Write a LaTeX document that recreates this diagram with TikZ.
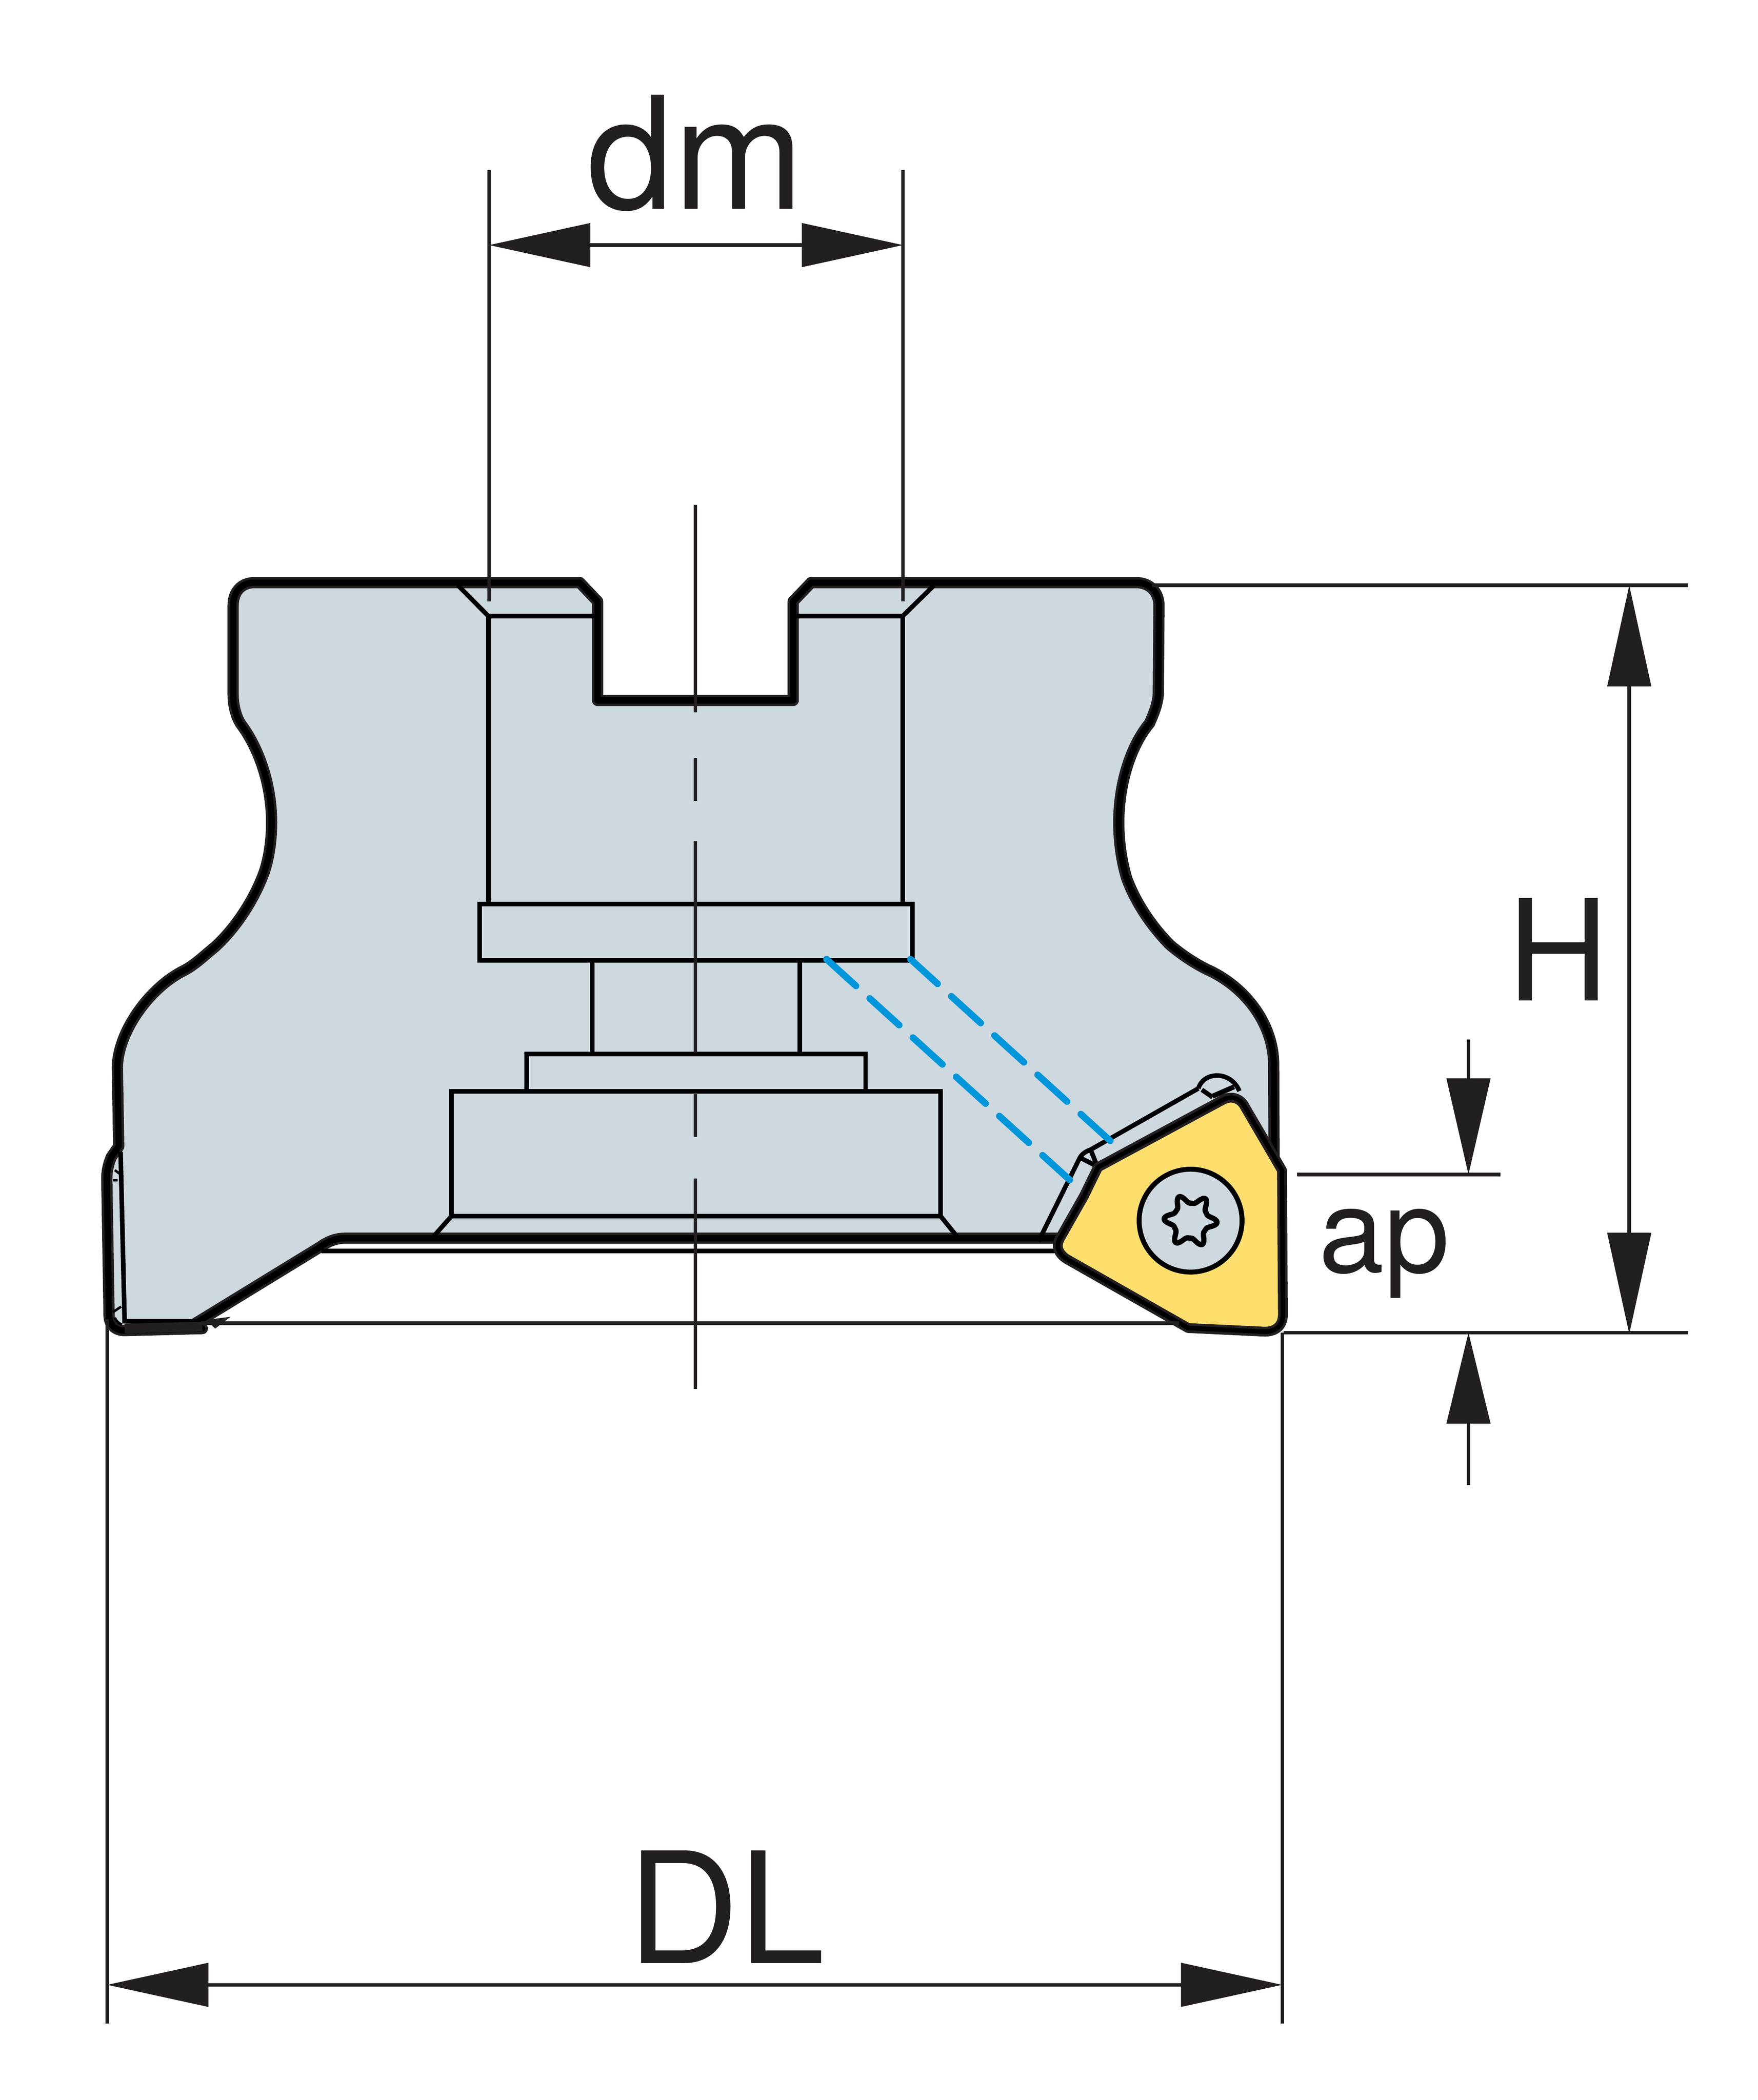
\documentclass[tikz,border=0pt]{standalone}
\usepackage{fontspec}
\setmainfont{TeX Gyre Heros}
\usetikzlibrary{arrows.meta}
\definecolor{bodyFill}{RGB}{205,216,223}
\definecolor{insertFill}{RGB}{254,223,110}
\definecolor{dimInk}{RGB}{35,31,32}
\definecolor{hiddenBlue}{RGB}{0,150,219}

\def\bodyOutline{(190,435) -- (432.7,435) -- (446,449) -- (446,523) -- (592,523) -- (592,449) -- (605.4,435) -- (848,435)
  .. controls (858,435) and (865,442) .. (865,452) -- (864.5,518)
  .. controls (864,527) and (860,535) .. (858,540)
  .. controls (843,558) and (835,587) .. (835,614)
  .. controls (835,628) and (837,643) .. (841,656)
  .. controls (848,675) and (860,692) .. (873,705.3)
  .. controls (882,713) and (892,719.5) .. (901,723.9)
  .. controls (930,737) and (950.6,765) .. (950.6,795)
  -- (951,880) -- (800,924.5) -- (258,924.5)
  .. controls (252,924.5) and (246,926) .. (239,931)
  -- (146,988) -- (151,992) -- (93,993.5)
  .. controls (86,993.5) and (81.4,989) .. (81.4,982)
  -- (79.7,880) .. controls (79.7,874) and (81,869) .. (83,864)
  -- (88.6,856) -- (87.6,797)
  .. controls (88,770) and (112,737) .. (137.8,724.4)
  .. controls (146,720) and (153,713) .. (160,707.4)
  .. controls (175,694) and (190,672) .. (197.7,649.7)
  .. controls (201,639) and (202.7,627) .. (202.7,614)
  .. controls (202.7,587) and (194,560) .. (180.2,541.2)
  .. controls (177,537) and (174,528) .. (174,519)
  -- (174,452) .. controls (174,442) and (180,435) .. (190,435) -- cycle}

\def\insertOutline{(819.5,871.5) -- (913,821)
  .. controls (919,818) and (925,820) .. (928.2,824.8)
  -- (956.8,873.8) -- (957.5,981.5)
  .. controls (957.5,990) and (952,994.3) .. (944,994.3)
  -- (886.8,991.6) -- (796,940)
  .. controls (788.5,935) and (788,929) .. (792,923) -- (809,893) -- cycle}

\begin{document}
\begin{tikzpicture}[x=3.81122pt,y=-3.81122pt,
    bodyLine/.style={draw=dimInk,line width=32pt,line join=round},
    partLine/.style={draw=black,line width=13pt},
    dimLine/.style={draw=dimInk,line width=10pt},
    dimArrow/.style={dimLine,{Triangle[length=288pt,width=123pt,fill=dimInk]}-{Triangle[length=288pt,width=123pt,fill=dimInk]}},
    dimTip/.style={dimLine,-{Triangle[length=#1,width=123pt,fill=dimInk]}},
    dimText/.style={inner sep=0pt,outer sep=0pt,anchor=base,text=dimInk}]

  \useasboundingbox (0,0) rectangle (1311.9,1568);

  % draw the cutter body
  \draw[bodyLine,fill=bodyFill] \bodyOutline;
  \draw[draw=black,line width=18pt,line join=round] \bodyOutline;

  % draw the bore and the chamfers
  \draw[partLine] (341.7,437) -- (364.5,460) -- (446,460);
  \draw[partLine] (697.2,437) -- (673.7,460) -- (592,460);
  \draw[partLine] (364.5,460) -- (364.5,675);
  \draw[partLine] (673.7,460) -- (673.7,675);

  % draw the steps of the bolt
  \draw[partLine] (358,675) rectangle (681,717);
  \foreach \x in {442,597} \draw[partLine] (\x,717) -- (\x,787);
  \draw[partLine] (393,787) rectangle (646,815);
  \draw[partLine] (337,815) rectangle (702,908);
  \draw[partLine] (337,908) -- (322,925);
  \draw[partLine] (702,908) -- (716.5,926);

  % draw the lower face and the left edge
  \draw[partLine] (240,934) -- (790,934);
  \draw[partLine] (90,860) -- (93,986.5) -- (150,986.5);
  \draw[partLine,line width=7pt] (84.3,979.7) -- (90.4,975.6);
  \draw[partLine,line width=7pt] (85.7,873.7) -- (90.4,877.2);
  \draw[partLine,line width=7pt] (84.3,881.3) -- (87.7,881.3);
  \draw[partLine,line width=7pt] (85.7,983.8) .. controls (86.5,986) and (88.5,988) .. (91,989);
  \draw[bodyLine,line width=28pt] (93,992) -- (151,990.5);
  \fill[dimInk] (154,985.5) -- (172,983.2) -- (160.6,992) -- cycle;

  % draw the seat of the insert
  \draw[partLine] (775,927) -- (806,864.3) .. controls (808,861) and (811,859.5) .. (814,858.4) -- (894.4,812.7);
  \draw[partLine] (894.4,812.7) .. controls (898.5,799.5) and (919,799.5) .. (925,814.7);
  \draw[partLine] (897,813.7) -- (905,819.2);
  \draw[partLine,line width=14pt] (905,818.5) -- (921,811.5);
  \draw[partLine] (806,864.3) -- (819,871) -- (814,858.4);

  % draw the insert
  \draw[bodyLine,line width=28pt,fill=insertFill] \insertOutline;
  \draw[draw=black,line width=13pt,line join=round] \insertOutline;
  \draw[partLine,line width=14pt,fill=bodyFill] (888.6,911.4) circle [radius=38.4];
  \draw[partLine,line width=15pt,line join=round] plot[domain=0:360,samples=145,smooth]
    ({888.6+(13+6.8*cos(3*(\x-4))^4)*cos(\x)},{911.4+(13+6.8*cos(3*(\x-4))^4)*sin(\x)}) -- cycle;

  % draw the hidden lines
  \draw[hiddenBlue,line width=19pt,line cap=round,dash pattern=on 113pt off 53pt] (828.6,851.8) -- (679.6,716.2);
  \draw[hiddenBlue,line width=19pt,line cap=round,dash pattern=on 113pt off 53pt] (616.9,716.2) -- (798.4,881);

  % draw the center line
  \foreach \a/\b in {377/532,566/598,628/786,817/849,880/1037}
  \draw[dimLine] (519,\a) -- (519,\b);

  % draw the extension lines
  \foreach \x in {365,674} \draw[dimLine] (\x,127) -- (\x,449);
  \draw[dimLine] (860,437) -- (1260,437);
  \draw[dimLine] (958,995) -- (1260,995);
  \draw[dimLine] (968,877) -- (1120,877);
  \draw[dimLine] (150,988) -- (880,988);
  \draw[dimLine] (80,985) -- (80,1511);
  \draw[dimLine] (957,995) -- (957,1511);

  % draw the dimensions
  \coordinate (dmLeft) at (365,183);
  \coordinate (dmRight) at (674,183);
  \coordinate (heightTop) at (1216,437);
  \coordinate (heightBottom) at (1216,996);
  \coordinate (apTopEnd) at (1096,776);
  \coordinate (apTop) at (1096,877);
  \coordinate (apBottomEnd) at (1096,1109);
  \coordinate (apBottom) at (1096,995);
  \coordinate (dlLeft) at (80,1482);
  \coordinate (dlRight) at (957,1482);
  \draw[dimArrow] (dmLeft) -- (dmRight);
  \draw[dimArrow] (heightTop) -- (heightBottom);
  \draw[dimArrow] (dlLeft) -- (dlRight);
  \draw[dimTip=274pt] (apTopEnd) -- (apTop);
  \draw[dimTip=259pt] (apBottomEnd) -- (apBottom);

  % label the dimensions
  \node[dimText,font=\fontsize{445}{445}\selectfont] (labelDm) at (519,156) {dm};
  \node[dimText,font=\fontsize{400}{400}\selectfont] (labelHeight) at (1163,747) {H};
  \node[dimText,font=\fontsize{335}{335}\selectfont] (labelAp) at (1033,950) {ap};
  \node[dimText,font=\fontsize{440}{440}\selectfont] (labelDl) at (542,1466) {DL};

\end{tikzpicture}
\end{document}
